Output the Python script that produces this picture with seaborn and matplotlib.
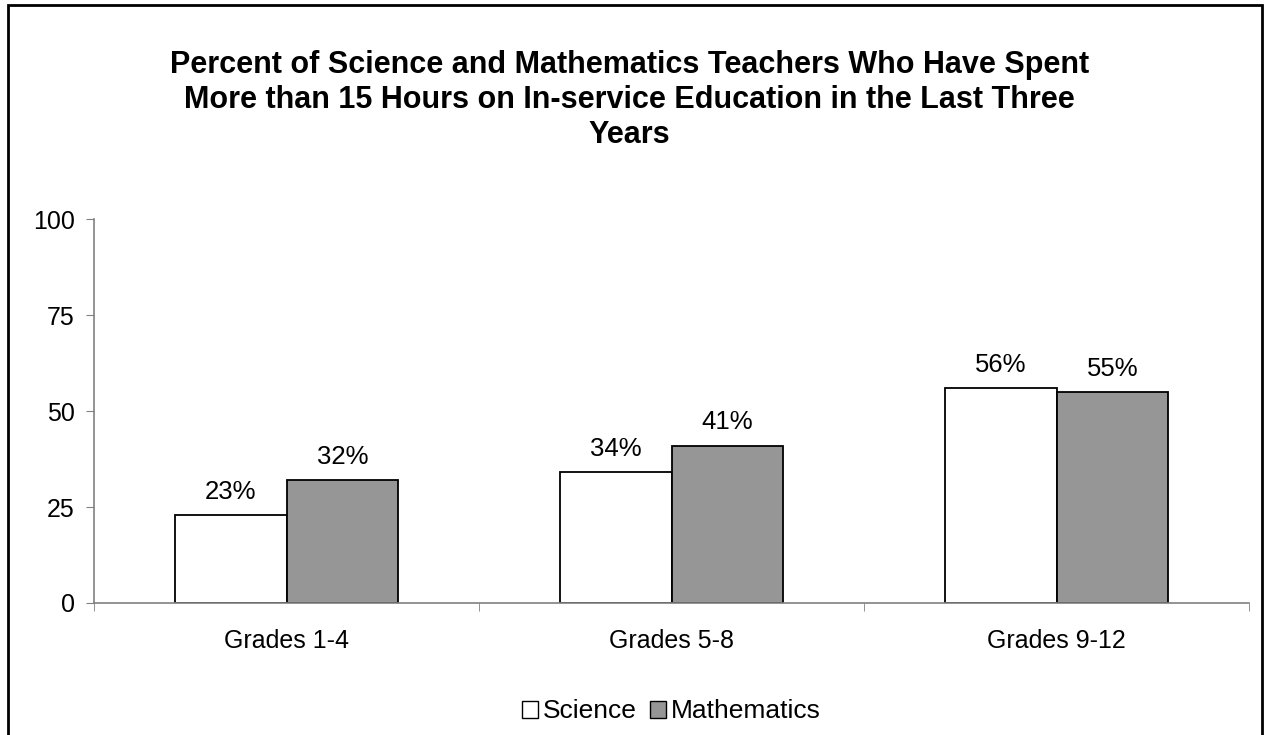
import matplotlib
matplotlib.use("Agg")
import matplotlib.pyplot as plt
import matplotlib.patches as mpatches
import seaborn as sns
import pandas as pd

grades = ["Grades 1-4", "Grades 5-8", "Grades 9-12"]
subjects = ["Science", "Mathematics"]
science = [23, 34, 56]
mathematics = [32, 41, 55]

df = pd.DataFrame({
    "grade": grades * 2,
    "subject": ["Science"] * 3 + ["Mathematics"] * 3,
    "pct": science + mathematics,
})

sns.set_style("white")
plt.rcParams["font.family"] = ["Liberation Sans", "DejaVu Sans"]
plt.rcParams["text.color"] = "black"
plt.rcParams["xtick.color"] = "black"
plt.rcParams["ytick.color"] = "black"

fig = plt.figure(figsize=(12.67, 7.35), dpi=100)
ax = fig.add_axes([0.0742, 0.1796, 0.9116, 0.5224])

colors = {"Science": "#ffffff", "Mathematics": "#969696"}
sns.barplot(data=df, x="grade", y="pct", hue="subject", hue_order=subjects,
            palette=colors, width=0.58, edgecolor="black", linewidth=1.3,
            ax=ax, legend=False)

for cont in ax.containers:
    ax.bar_label(cont, labels=[f"{v:.0f}%" for v in cont.datavalues],
                 padding=8, fontsize=18.5, color="black")

ax.set_ylim(0, 100)
ax.set_xlim(-0.5, 2.5)
ax.set_yticks([0, 25, 50, 75, 100])
ax.set_xlabel("")
ax.set_ylabel("")
ax.tick_params(axis="y", direction="out", length=6, color="#808080", labelsize=18,
               labelcolor="black", left=True, pad=8)
ax.tick_params(axis="x", which="major", length=0, labelsize=18, labelcolor="black", pad=19)
ax.set_xticks([-0.5, 0.5, 1.5, 2.5], minor=True)
ax.tick_params(axis="x", which="minor", direction="out", length=6, color="#808080", bottom=True)
sns.despine(ax=ax)
for s in ["left", "bottom"]:
    ax.spines[s].set_color("#808080")
    ax.spines[s].set_linewidth(1.2)

fig.text(0.497, 0.932,
         "Percent of Science and Mathematics Teachers Who Have Spent\n"
         "More than 15 Hours on In-service Education in the Last Three\nYears",
         ha="center", va="top", fontsize=22, fontweight="bold", linespacing=1.22,
         color="black")

handles = [mpatches.Patch(facecolor=colors[s], edgecolor="black", linewidth=1.0, label=s)
           for s in subjects]
fig.legend(handles=handles, loc="center", bbox_to_anchor=(0.53, 0.032), ncol=2,
           frameon=False, fontsize=19, handlelength=0.6, handleheight=0.6,
           handletextpad=0.2, columnspacing=0.5)

fig.patches.append(mpatches.Rectangle((0.0065, -0.02), 0.9895, 1.013, transform=fig.transFigure,
                                      fill=False, edgecolor="black", linewidth=2))

fig.savefig("out.png", dpi=100)
